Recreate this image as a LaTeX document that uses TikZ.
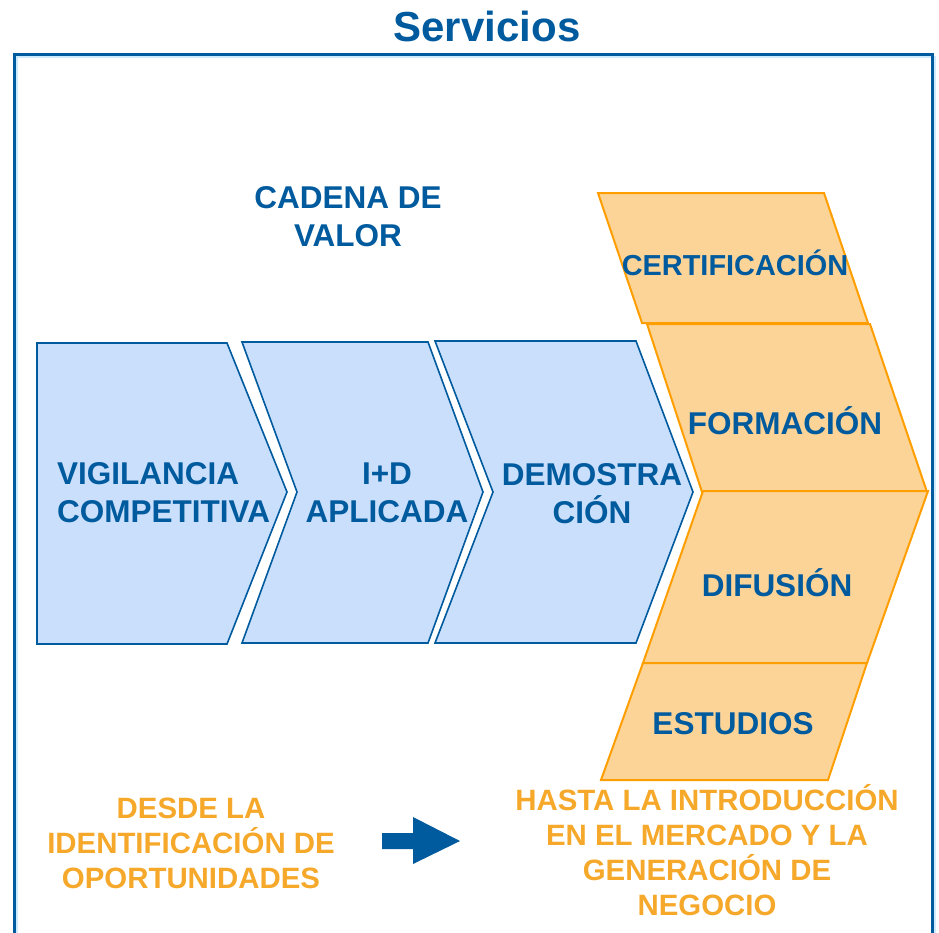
\documentclass[tikz,border=0pt]{standalone}
\usepackage{fontspec}
\setmainfont{Liberation Sans}
\usetikzlibrary{calc}
\definecolor{azul}{HTML}{005A9E}
\definecolor{azulclaro}{HTML}{C9DFFC}
\definecolor{marco}{HTML}{CDEBFF}
\definecolor{naranja}{HTML}{FF9E00}
\definecolor{naranjaclaro}{HTML}{FDD497}
\definecolor{textonaranja}{HTML}{F5A82A}

\begin{document}
\begin{tikzpicture}[x=1pt,y=-1pt,
  eslabon/.style={draw=azul,fill=azulclaro,line width=1.6pt},
  servicio/.style={draw=naranja,fill=naranjaclaro,line width=2pt},
  rotulo/.style={text=azul,font=\bfseries\fontsize{31.5}{38}\selectfont,inner sep=0pt,align=center,anchor=base},
  rotuloservicio/.style={rotulo,font=\bfseries\fontsize{31.5}{38}\selectfont},
  lema/.style={text=textonaranja,font=\bfseries\fontsize{29.4}{35}\selectfont,inner sep=0pt,align=center,anchor=base}]
\useasboundingbox (0,0) rectangle (939,932);
\draw[marco,line width=2.5pt] (17,940) |- (935,57) -- (935,940);
\draw[azul,line width=3pt] (14.5,940) |- (932,54.5) -- (932,940);
\node[rotulo,font=\bfseries\fontsize{42}{50}\selectfont] (titulo) at (487,41) {Servicios};
\node[rotulo] (cadena) at (348,246) {CADENA DE\\VALOR};
\draw[eslabon] (37,343) -- (227,343) -- (287,492) -- (227,644) -- (37,644) -- cycle;
\draw[eslabon] (242,342) -- (428,342) -- (483,492) -- (428,643) -- (242,643) -- (297,492) -- cycle;
\draw[eslabon] (435,341) -- (636,341) -- (693,492) -- (636,643) -- (435,643) -- (493,492) -- cycle;
\node[rotulo,align=left,anchor=base west] (vigilancia) at (57,522) {VIGILANCIA\\COMPETITIVA};
\node[rotulo] (imasd) at (387,522) {I+D\\APLICADA};
\node[rotulo] (demostracion) at (592,523) {DEMOSTRA\\CIÓN};
\draw[servicio] (598,193) -- (824,193) -- (868,323) -- (642,323) -- cycle;
\draw[servicio] (647,324) -- (870,324) -- (927,492) -- (702,492) -- cycle;
\draw[servicio] (703,491) -- (928,491) -- (867,663) -- (643,663) -- cycle;
\draw[servicio] (643,663) -- (867,663) -- (828,780) -- (601,780) -- cycle;
\node[rotuloservicio,font=\bfseries\fontsize{28.9}{34}\selectfont] (certificacion) at (735,275) {CERTIFICACIÓN};
\node[rotuloservicio] (formacion) at (785,434) {FORMACIÓN};
\node[rotuloservicio] (difusion) at (777,596) {DIFUSIÓN};
\node[rotuloservicio] (estudios) at (733,734) {ESTUDIOS};
\node[lema] (desde) at (191,888) {DESDE LA\\IDENTIFICACIÓN DE\\OPORTUNIDADES};
\fill[azul] (382,833) -- (413,833) -- (413,817) -- (460,841) -- (413,864) -- (413,849) -- (382,849) -- cycle;
\node[lema] (hasta) at (707,915) {HASTA LA INTRODUCCIÓN\\EN EL MERCADO Y LA\\GENERACIÓN DE\\NEGOCIO};
\end{tikzpicture}
\end{document}
